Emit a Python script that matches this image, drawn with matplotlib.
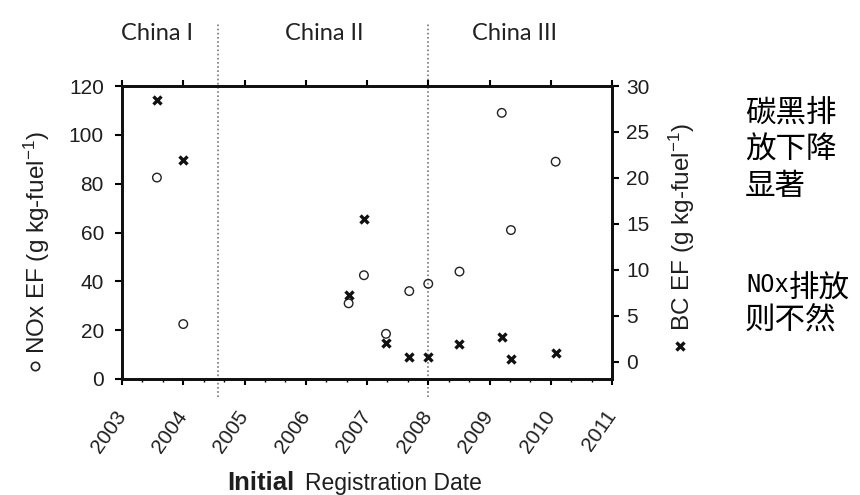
import matplotlib
matplotlib.use("Agg")
import matplotlib.pyplot as plt
from matplotlib.ticker import MultipleLocator
from matplotlib.lines import Line2D
from matplotlib.text import Annotation
import matplotlib.transforms as mtransforms

plt.rcParams['font.family'] = ['Liberation Sans', 'DejaVu Sans']
plt.rcParams['mathtext.fontset'] = 'custom'
plt.rcParams['mathtext.rm'] = 'Liberation Sans'
plt.rcParams['mathtext.it'] = 'Liberation Sans:italic'

# ---- data ----
reg_date = [2003.57, 2004.0, 2006.70, 2006.95, 2007.31, 2007.69, 2008.0, 2008.51, 2009.20, 2009.35, 2010.08]
nox_ef = [82.5, 22.5, 31, 42.5, 18.5, 36, 39, 44, 109, 61, 89]
bc_ef = [28.5, 22.0, 7.3, 15.5, 2.1, 0.5, 0.5, 2.0, 2.7, 0.3, 1.0]
standard_bounds = [2004.57, 2008.0]
standard_names = ["China I", "China II", "China III"]
standard_label_x = [2003.57, 2006.30, 2009.40]
year_ticks = list(range(2003, 2012))
nox_ticks = [0, 20, 40, 60, 80, 100, 120]
bc_ticks = [0, 5, 10, 15, 20, 25, 30]
note1 = "碳黑排\n放下降\n显著"
note2_latin = "NOx"
note2_cjk_first = "排放"
note2_second = "则不然"

W, H = 860, 495
fig = plt.figure(figsize=(W / 100, H / 100), dpi=100)
ax = fig.add_axes([122 / W, 1 - 379 / H, 490 / W, 293 / H])
ax2 = ax.twinx()

tick_col = '#1e1e1e'
ax.scatter(reg_date, nox_ef, s=38, facecolors='none', edgecolors='#222222', linewidths=1.0, zorder=3)
ax2.plot(reg_date, bc_ef, linestyle='none', marker='x', ms=6, mew=2.4, color='#111111', zorder=3)

ax.set_xlim(2003, 2011)
ax.set_ylim(0, 120)
ax2.set_ylim(-1.85, 30)

ax.set_xticks(year_ticks)
ax.set_xticklabels([str(y) for y in year_ticks], rotation=55, ha='right', va='center',
                   rotation_mode='anchor', fontsize=15, color=tick_col)
ax.xaxis.set_minor_locator(MultipleLocator(1 / 3))
ax.set_yticks(nox_ticks)
ax.set_yticklabels([str(v) for v in nox_ticks], fontsize=15, color=tick_col)
ax2.set_yticks(bc_ticks)
ax2.set_yticklabels([str(v) for v in bc_ticks], fontsize=15, color=tick_col)

ax.tick_params(axis='x', which='major', direction='out', length=4, width=1.5, top=True, pad=20)
ax.tick_params(axis='x', which='minor', direction='out', length=2.5, width=1.0, top=False)
ax.tick_params(axis='y', which='major', direction='out', length=5, width=1.5, pad=8)
ax2.tick_params(axis='y', which='major', direction='out', length=5, width=1.5, pad=5)

for a in (ax, ax2):
    for s in a.spines.values():
        s.set_linewidth(2.0)
        s.set_color('#111111')

# standard boundary dotted lines, extending beyond axes
trans = mtransforms.blended_transform_factory(ax.transData, ax.transAxes)
for b in standard_bounds:
    ax.plot([b, b], [-0.061, 1.21], transform=trans, clip_on=False,
            linestyle=(0, (1, 1.5)), color='#777777', lw=1.2, zorder=1)

for name, x in zip(standard_names, standard_label_x):
    ax.text(x, 1.18, name, transform=trans, ha='center', va='center',
            fontsize=17, family=['Lato', 'DejaVu Sans'], color='#222222')

# axis labels with marker keys
fig.add_artist(Line2D([35 / W], [1 - 366 / H], transform=fig.transFigure, marker='o',
                      ms=6, mfc='none', mec='#222222', mew=1.2, linestyle='none'))
fig.text(37 / W, 1 - 354 / H, "NOx EF (g kg-fuel$^{-1}$)", rotation=90,
         ha='center', va='bottom', fontsize=17.5, color=tick_col)
fig.add_artist(Line2D([680 / W], [1 - 346 / H], transform=fig.transFigure, marker='x',
                      ms=6, color='#111111', mew=2.4, linestyle='none'))
fig.text(682 / W, 1 - 331 / H, "BC EF (g kg-fuel$^{-1}$)", rotation=90,
         ha='center', va='bottom', fontsize=17.5, color=tick_col)
fig.text(227 / W, 1 - 490 / H, "Initial", ha='left', va='baseline',
         fontsize=18.5, fontweight='bold', color=tick_col)
fig.text(305 / W, 1 - 490 / H, "Registration Date", ha='left', va='baseline',
         fontsize=16.5, color=tick_col)

# Chinese annotations
fig.text(745 / W, 1 - 98 / H, note1, ha='left', va='top', fontsize=22,
         family=['Noto Sans CJK SC'], linespacing=1.22, color='black')

t_nox = fig.text(746 / W, 1 - 292 / H, note2_latin, ha='left', va='baseline',
                 fontsize=17, family=['DejaVu Sans Mono'], color='black')
a1 = Annotation(note2_cjk_first, xy=(1.0, 0.0), xycoords=t_nox, xytext=(1.0, 0.0),
                textcoords=t_nox, ha='left', va='baseline', fontsize=22,
                family=['Noto Sans CJK SC'], color='black')
fig.add_artist(a1)
fig.text(745 / W, 1 - 330 / H, note2_second, ha='left', va='baseline', fontsize=22,
         family=['Noto Sans CJK SC'], color='black')

fig.savefig("out.png", dpi=100)
